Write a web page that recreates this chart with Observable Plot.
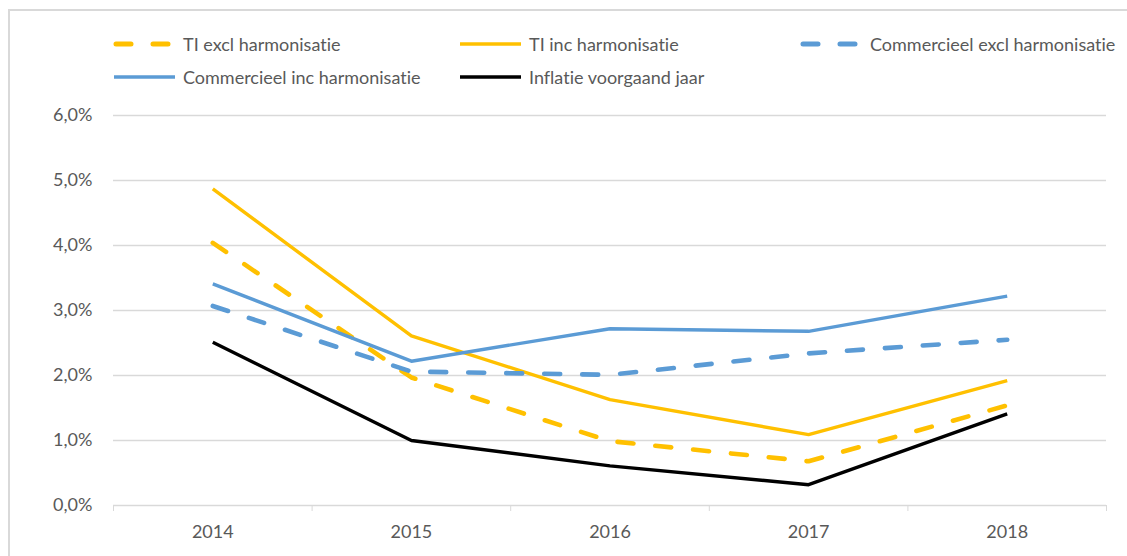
<!DOCTYPE html>
<html>
<head>
<meta charset="utf-8">
<script src="https://cdn.jsdelivr.net/npm/d3@7"></script>
<script src="https://cdn.jsdelivr.net/npm/@observablehq/plot@0.6"></script>
<style>
  html, body { margin: 0; padding: 0; background: #fff; }
  body { width: 1127px; height: 556px; position: relative; overflow: hidden; font-family: Lato, "Open Sans", sans-serif; font-variant-ligatures: none; }
  svg text { font-variant-ligatures: none; }
  #frame { position: absolute; left: 8px; top: 9px; right: -2px; bottom: -2px; border-top: 2px solid #d9d9d9; border-left: 2px solid #d9d9d9; }
  .leg { position: absolute; display: flex; align-items: center; font-size: 18px; color: #595959; white-space: nowrap; }
  .leg svg { margin-right: 6px; }
  #chart { position: absolute; left: 0; top: 100px; }
</style>
</head>
<body>
<div id="frame"></div>
<div id="legend"></div>
<div id="chart"></div>
<script>
const years = [2014, 2015, 2016, 2017, 2018];
const seriesNames = ["TI excl harmonisatie", "TI inc harmonisatie", "Commercieel excl harmonisatie", "Commercieel inc harmonisatie", "Inflatie voorgaand jaar"];
const tiExcl   = [4.04, 1.97, 0.99, 0.68, 1.54];
const tiInc    = [4.87, 2.61, 1.63, 1.09, 1.92];
const commExcl = [3.07, 2.06, 2.01, 2.34, 2.55];
const commInc  = [3.41, 2.22, 2.72, 2.68, 3.22];
const inflatie = [2.51, 1.00, 0.61, 0.32, 1.41];
const yTicks = [0, 1, 2, 3, 4, 5, 6];

const seriesValues = [tiExcl, tiInc, commExcl, commInc, inflatie];
const colors = ["#FFC000", "#FFC000", "#5B9BD5", "#5B9BD5", "#000000"];
const dashed = [true, false, true, false, false];

const boundaries = [...years.map(y => y - 0.5), years[years.length - 1] + 0.5];

const lineMarks = seriesValues.map((vals, i) => {
  const rows = years.map((yr, j) => ({year: yr, value: vals[j]}));
  return Plot.line(rows, {
    x: "year", y: "value",
    stroke: colors[i], strokeWidth: dashed[i] ? 4.6 : 3.4,
    strokeDasharray: dashed[i] ? "16,22" : null,
    strokeLinecap: dashed[i] ? "round" : "butt",
    strokeLinejoin: "round"
  });
});

const chart = Plot.plot({
  width: 1127,
  height: 456,
  marginLeft: 113,
  marginRight: 21,
  marginTop: 15,
  marginBottom: 51,
  style: {fontFamily: "Lato, 'Open Sans', sans-serif", fontSize: "18px", color: "#595959", background: "transparent"},
  x: {domain: [years[0] - 0.5, years[years.length - 1] + 0.5], type: "linear"},
  y: {domain: [0, 6]},
  marks: [
    Plot.ruleY(yTicks, {stroke: "#d9d9d9", strokeWidth: 1.3}),
    Plot.axisX({ticks: boundaries, tickSize: 6, tickFormat: () => "", stroke: "#d9d9d9", label: null}),
    Plot.axisX({ticks: years, tickSize: 0, tickPadding: 20, tickFormat: d => String(d), fill: "#595959", label: null}),
    Plot.axisY({ticks: yTicks, tickSize: 0, tickPadding: 21, tickFormat: d => d.toFixed(1).replace(".", ",") + "%", fill: "#595959", label: null}),
    ...lineMarks
  ]
});
document.getElementById("chart").appendChild(chart);

// Legend
const legendPos = [
  {left: 113, top: 44}, {left: 459, top: 44}, {left: 800, top: 44},
  {left: 113, top: 77}, {left: 459, top: 77}
];
const legend = document.getElementById("legend");
seriesNames.forEach((name, i) => {
  const div = document.createElement("div");
  div.className = "leg";
  div.style.left = legendPos[i].left + "px";
  div.style.top = (legendPos[i].top - 12) + "px";
  div.style.height = "24px";
  const sw = dashed[i]
    ? `<svg width="64" height="10"><line x1="3" y1="5" x2="61" y2="5" stroke="${colors[i]}" stroke-width="5" stroke-linecap="round" stroke-dasharray="15,22"/></svg>`
    : `<svg width="64" height="10"><line x1="1" y1="5" x2="62" y2="5" stroke="${colors[i]}" stroke-width="3.6"/></svg>`;
  div.innerHTML = sw + `<span>${name}</span>`;
  legend.appendChild(div);
});
</script>
</body>
</html>
